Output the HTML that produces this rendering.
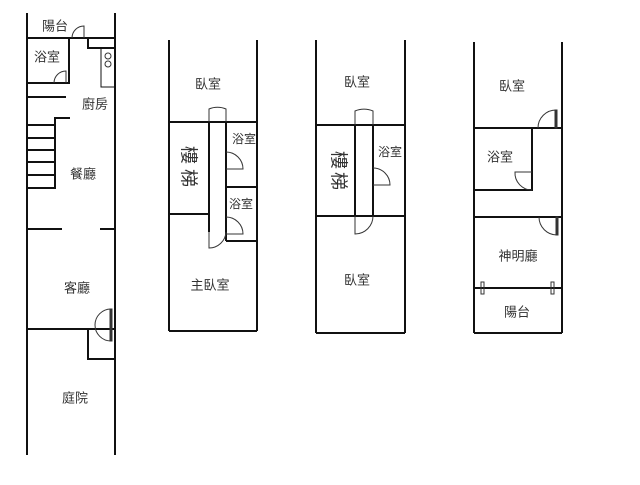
<!DOCTYPE html>
<html><head><meta charset="utf-8"><style>
body{margin:0;background:#fff}
svg text{font-family:"Liberation Sans","Noto Sans CJK TC",sans-serif;font-size:13px;fill:#333;text-anchor:middle;dominant-baseline:middle}
</style></head><body>
<svg width="640" height="480" viewBox="0 0 640 480" xmlns="http://www.w3.org/2000/svg">
<g stroke="#111" stroke-width="2" fill="none">
<line x1="27" y1="13" x2="27" y2="455"/>
<line x1="115" y1="13" x2="115" y2="359"/>
<line x1="115" y1="359" x2="115" y2="455"/>
<line x1="27" y1="38" x2="115" y2="38"/>
<path d="M69 38 V83 H27"/>
<path d="M88 38 V48 H115"/>
<rect x="101" y="48" width="14" height="39" stroke-width="1"/>
<line x1="27" y1="97" x2="66" y2="97"/>
<path d="M70 118 H55 V188 H27"/>
<line x1="27" y1="125" x2="55" y2="125"/>
<line x1="27" y1="138" x2="55" y2="138"/>
<line x1="27" y1="150" x2="55" y2="150"/>
<line x1="27" y1="162" x2="55" y2="162"/>
<line x1="27" y1="175" x2="55" y2="175"/>
<line x1="27" y1="229" x2="62" y2="229"/>
<line x1="100" y1="229" x2="115" y2="229"/>
<line x1="27" y1="329" x2="115" y2="329"/>
<path d="M88 329 V359 H115"/>
<line x1="169" y1="40" x2="169" y2="331"/>
<line x1="257" y1="40" x2="257" y2="331"/>
<line x1="169" y1="331" x2="257" y2="331"/>
<line x1="169" y1="122" x2="257" y2="122"/>
<line x1="169" y1="214" x2="209" y2="214"/>
<line x1="209" y1="122" x2="209" y2="232"/>
<line x1="226" y1="122" x2="226" y2="241"/>
<line x1="226" y1="187" x2="257" y2="187"/>
<line x1="226" y1="241" x2="257" y2="241"/>
<line x1="316" y1="40" x2="316" y2="333"/>
<line x1="405" y1="40" x2="405" y2="333"/>
<line x1="316" y1="333" x2="405" y2="333"/>
<line x1="316" y1="125" x2="405" y2="125"/>
<line x1="316" y1="216" x2="405" y2="216"/>
<line x1="355" y1="125" x2="355" y2="216"/>
<line x1="373" y1="125" x2="373" y2="216"/>
<line x1="474" y1="42" x2="474" y2="333"/>
<line x1="562" y1="42" x2="562" y2="333"/>
<line x1="474" y1="333" x2="562" y2="333"/>
<line x1="474" y1="128" x2="562" y2="128"/>
<path d="M474 190 H532 V128"/>
<line x1="474" y1="217" x2="562" y2="217"/>
<line x1="474" y1="288" x2="562" y2="288"/>
</g>
<g stroke="#333" stroke-width="1" fill="none">
<circle cx="108" cy="56" r="3"/><circle cx="108" cy="64" r="3"/>
<path d="M84 38 V26 A12 12 0 0 0 72 38"/>
<path d="M66 83 V71 A12 12 0 0 0 54 83"/>
<path d="M111 341 V309 A16 16 0 0 0 111 341" /><rect x="110" y="309" width="2" height="32"/>
<path d="M209 122 V109 A17 13 0 0 1 226 109 V122"/>
<path d="M226 152 A17 17 0 0 1 243 169 H226"/>
<path d="M226 217 A17 17 0 0 1 243 234 H226"/>
<path d="M209 232 V248 A17 17 0 0 0 226 232"/>
<path d="M355 125 V111 A18 14 0 0 1 373 111 V125"/>
<path d="M373 168 A17 17 0 0 1 390 185 H373"/>
<path d="M355 216 V234 A18 18 0 0 0 373 216"/>
<path d="M556 128 V110 A18 18 0 0 0 538 128"/><rect x="555" y="110" width="2" height="18"/>
<path d="M532 172 H515 A17 17 0 0 0 532 190"/>
<path d="M557 217 V235 A18 18 0 0 1 539 217"/><rect x="556" y="217" width="2" height="18"/>
<rect x="481" y="282" width="3" height="12"/><rect x="551" y="282" width="3" height="12"/>
</g>
<text x="55" y="27">陽台</text>
<text x="47" y="58">浴室</text>
<text x="95" y="105">廚房</text>
<text x="83" y="175">餐廳</text>
<text x="77" y="289">客廳</text>
<text x="75" y="399">庭院</text>
<text x="208" y="85">臥室</text>
<text x="187" y="155" style="font-size:18px" transform="rotate(90 187 155)">樓</text>
<text x="187" y="178" style="font-size:18px" transform="rotate(90 187 178)">梯</text>
<text x="244" y="140" style="font-size:12px">浴室</text>
<text x="241" y="205" style="font-size:12px">浴室</text>
<text x="210" y="286">主臥室</text>
<text x="357" y="83">臥室</text>
<text x="337" y="160" style="font-size:18px" transform="rotate(90 337 160)">樓</text>
<text x="337" y="181" style="font-size:18px" transform="rotate(90 337 181)">梯</text>
<text x="390" y="153" style="font-size:12px">浴室</text>
<text x="357" y="281">臥室</text>
<text x="512" y="87">臥室</text>
<text x="500" y="158">浴室</text>
<text x="518" y="257">神明廳</text>
<text x="517" y="313">陽台</text>
</svg>
</body></html>
